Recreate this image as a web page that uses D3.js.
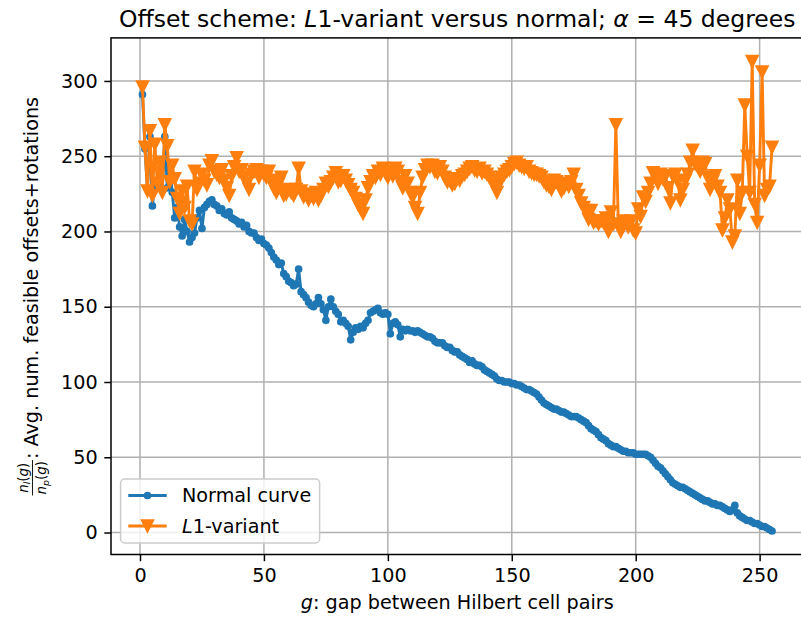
<!DOCTYPE html>
<html>
<head>
<meta charset="utf-8">
<script src="https://cdn.jsdelivr.net/npm/d3@7"></script>
<style>
  body { margin: 0; background: #fff; }
  svg text { font-family: "DejaVu Sans", sans-serif; fill: #000; }
</style>
</head>
<body>
<div id="chart"></div>
<script>
// g = 1 .. 255
const gaps = d3.range(1, 256);

const normalCurve = [
  291, 255, 228, 263, 217, 232, 230, 236, 228, 263,
  229, 244, 226, 209, 216, 203, 197, 208, 200, 193,
  196, 199, 209, 214, 202, 216, 218, 220, 221, 218,
  217, 214, 215, 212, 211, 213, 209, 208, 207, 205,
  206, 203, 204, 200, 199, 199, 196, 194, 195, 192,
  191, 189, 186, 183, 181, 178, 179, 172, 170, 167,
  166, 164, 165, 175, 160, 158, 156, 153, 151, 150,
  152, 156, 152, 148, 141, 150, 155, 150, 147, 145,
  140, 141, 139, 137, 128, 133, 136, 135, 137, 136,
  139, 141, 146, 147, 148, 149, 146, 145, 146, 145,
  132, 139, 140, 138, 130, 135, 134, 135, 134, 134,
  133, 134, 133, 132, 131, 130, 130, 129, 127, 126,
  126, 126, 124, 123, 123, 121, 120, 120, 118, 117,
  116, 115, 113, 114, 112, 111, 111, 110, 108, 107,
  106, 105, 104, 102, 101, 101, 100, 100, 100, 99,
  99, 98, 98, 97, 96, 95, 95, 94, 93, 92,
  90, 88, 86, 85, 84, 83, 82, 82, 81, 80,
  80, 79, 78, 77, 77, 77, 76, 75, 74, 73,
  71, 69, 68, 67, 65, 63, 62, 61, 59, 58,
  57, 57, 56, 55, 54, 54, 53, 53, 53, 52,
  52, 52, 52, 52, 51, 50, 48, 46, 44, 43,
  41, 39, 37, 35, 33, 32, 31, 30, 30, 29,
  28, 27, 26, 25, 24, 23, 22, 21, 21, 20,
  19, 19, 18, 18, 17, 16, 15, 14, 15, 18,
  13, 11, 10, 9, 8, 8, 7, 6, 6, 5,
  4, 4, 3, 2, 1
];

const l1Variant = [
  296, 256, 227, 267, 224, 258, 232, 246, 226, 271,
  257, 233, 244, 235, 222, 212, 227, 216, 230, 207,
  205, 240, 228, 232, 238, 234, 231, 244, 247, 240,
  238, 236, 241, 234, 229, 224, 237, 243, 249, 240,
  241, 236, 232, 228, 238, 240, 241, 236, 240, 238,
  236, 240, 234, 229, 226, 232, 236, 224, 225, 228,
  226, 224, 228, 242, 227, 223, 225, 221, 224, 222,
  226, 221, 224, 228, 232, 230, 233, 236, 239, 233,
  234, 237, 234, 231, 228, 226, 222, 218, 215, 212,
  221, 229, 233, 237, 236, 240, 238, 242, 239, 236,
  240, 237, 242, 240, 233, 229, 237, 232, 226, 223,
  216, 212, 226, 236, 241, 244, 243, 244, 240, 239,
  243, 240, 236, 233, 234, 231, 232, 235, 234, 237,
  238, 240, 242, 243, 241, 240, 242, 239, 240, 238,
  236, 234, 230, 226, 232, 236, 238, 240, 241, 243,
  245, 246, 244, 243, 242, 243, 240, 239, 238, 238,
  237, 236, 233, 231, 230, 228, 234, 233, 231, 227,
  229, 232, 230, 233, 238, 228, 224, 219, 216, 214,
  208, 214, 206, 207, 205, 207, 206, 209, 200, 213,
  205, 271, 204, 200, 207, 206, 203, 207, 201, 199,
  215, 210, 223, 220, 226, 232, 239, 236, 232, 238,
  235, 237, 229, 219, 237, 238, 233, 221, 228, 234,
  238, 246, 254, 245, 243, 240, 246, 245, 236, 228,
  233, 237, 230, 226, 201, 209, 221, 215, 193, 197,
  234, 212, 226, 284, 250, 226, 313, 218, 206, 244,
  306, 224, 228, 230, 256
];

const xTicks = [0, 50, 100, 150, 200, 250];
const yTicks = [0, 50, 100, 150, 200, 250, 300];

const BLUE = "#1f77b4", ORANGE = "#ff7f0e";
const W = 801, H = 617;
const plot = { left: 111, right: 803.5, top: 37.9, bottom: 554.5 };
const fs = 19.2; // 10pt

// matplotlib style 5% margins
function padded(arr) {
  const [lo, hi] = d3.extent(arr);
  const p = (hi - lo) * 0.05;
  return [lo - p, hi + p];
}

const x = d3.scaleLinear().domain(padded(gaps)).range([plot.left, plot.right]);
const y = d3.scaleLinear().domain(padded(normalCurve.concat(l1Variant))).range([plot.bottom, plot.top]);

const svg = d3.select("#chart").append("svg")
  .attr("width", W)
  .attr("height", H);

svg.append("defs").append("clipPath").attr("id", "clip")
  .append("rect")
    .attr("x", plot.left).attr("y", plot.top)
    .attr("width", plot.right - plot.left)
    .attr("height", plot.bottom - plot.top);

// grid
const grid = svg.append("g").attr("stroke", "#b0b0b0").attr("stroke-width", 1.5);
grid.selectAll("line.gx").data(xTicks).enter().append("line")
  .attr("x1", d => x(d)).attr("x2", d => x(d))
  .attr("y1", plot.top).attr("y2", plot.bottom);
grid.selectAll("line.gy").data(yTicks).enter().append("line")
  .attr("x1", plot.left).attr("x2", plot.right)
  .attr("y1", d => y(d)).attr("y2", d => y(d));

// axes
const xAxis = svg.append("g")
  .attr("transform", `translate(0,${plot.bottom})`)
  .call(d3.axisBottom(x).tickValues(xTicks).tickSize(6.7).tickPadding(6.7).tickSizeOuter(0));
const yAxis = svg.append("g")
  .attr("transform", `translate(${plot.left},0)`)
  .call(d3.axisLeft(y).tickValues(yTicks).tickSize(6.7).tickPadding(6.7).tickSizeOuter(0));

[xAxis, yAxis].forEach(a => {
  a.attr("font-size", fs).attr("font-family", "DejaVu Sans");
  a.select(".domain").remove();
  a.selectAll(".tick line").attr("stroke", "#000").attr("stroke-width", 1.5);
  a.selectAll(".tick text").attr("fill", "#000");
});

// series
const data = svg.append("g").attr("clip-path", "url(#clip)");
const line = d3.line().x((d, i) => x(gaps[i])).y(d => y(d));

data.append("path")
  .datum(normalCurve)
  .attr("d", line)
  .attr("fill", "none")
  .attr("stroke", BLUE)
  .attr("stroke-width", 2.9)
  .attr("stroke-linejoin", "round");

data.selectAll("circle.normal")
  .data(normalCurve)
  .enter().append("circle")
    .attr("class", "normal")
    .attr("cx", (d, i) => x(gaps[i]))
    .attr("cy", d => y(d))
    .attr("r", 2.9)
    .attr("fill", BLUE)
    .attr("stroke", BLUE)
    .attr("stroke-width", 1.9);

data.append("path")
  .datum(l1Variant)
  .attr("d", line)
  .attr("fill", "none")
  .attr("stroke", ORANGE)
  .attr("stroke-width", 2.9)
  .attr("stroke-linejoin", "round");

const tri = s => `M0,${s / 2}L${-s / 2},${-s / 2}L${s / 2},${-s / 2}Z`;

data.selectAll("path.l1")
  .data(l1Variant)
  .enter().append("path")
    .attr("class", "l1")
    .attr("d", tri(11.5))
    .attr("transform", (d, i) => `translate(${x(gaps[i])},${y(d)})`)
    .attr("fill", ORANGE)
    .attr("stroke", ORANGE)
    .attr("stroke-width", 1.9)
    .attr("stroke-linejoin", "miter");

// spines
svg.append("rect")
  .attr("x", plot.left).attr("y", plot.top)
  .attr("width", plot.right - plot.left)
  .attr("height", plot.bottom - plot.top)
  .attr("fill", "none")
  .attr("stroke", "#000")
  .attr("stroke-width", 1.5);

// legend
const lg = svg.append("g");
lg.append("rect")
  .attr("x", 120.6).attr("y", 479)
  .attr("width", 199).attr("height", 64)
  .attr("rx", 4)
  .attr("fill", "#fff").attr("fill-opacity", 0.8)
  .attr("stroke", "#cccccc").attr("stroke-width", 1.5);

const rows = [
  { label: "Normal curve", color: BLUE, y: 495.5, mark: "dot" },
  { label: "L1-variant", color: ORANGE, y: 526, mark: "tri" }
];
rows.forEach(r => {
  lg.append("line")
    .attr("x1", 128.3).attr("x2", 166.7)
    .attr("y1", r.y).attr("y2", r.y)
    .attr("stroke", r.color).attr("stroke-width", 2.9);
  if (r.mark === "dot") {
    lg.append("circle").attr("cx", 147.5).attr("cy", r.y).attr("r", 2.9)
      .attr("fill", r.color).attr("stroke", r.color).attr("stroke-width", 1.9);
  } else {
    lg.append("path").attr("d", tri(11.5))
      .attr("transform", `translate(147.5,${r.y})`)
      .attr("fill", r.color).attr("stroke", r.color).attr("stroke-width", 1.9);
  }
  const t = lg.append("text")
    .attr("x", 182).attr("y", r.y)
    .attr("dy", "0.35em")
    .attr("font-size", fs);
  if (r.mark === "tri") {
    t.append("tspan").attr("font-style", "italic").text("L");
    t.append("tspan").text("1-variant");
  } else {
    t.text(r.label);
  }
});

// title
const cx = (plot.left + plot.right) / 2;
const title = svg.append("text")
  .attr("x", cx).attr("y", 26.5)
  .attr("text-anchor", "middle")
  .attr("font-size", 23.5);
title.append("tspan").text("Offset scheme: ");
title.append("tspan").attr("font-style", "italic").text("L");
title.append("tspan").text("1-variant versus normal; ");
title.append("tspan").attr("font-style", "italic").text("α");
title.append("tspan").text(" = 45 degrees");

// x label
const xl = svg.append("text")
  .attr("x", cx).attr("y", 608.5)
  .attr("text-anchor", "middle")
  .attr("font-size", fs);
xl.append("tspan").attr("font-style", "italic").text("g");
xl.append("tspan").text(": gap between Hilbert cell pairs");

// y label with fraction n_l(g)/n_p(g)
const yl = svg.append("g");
function fracPart(sub, yy) {
  const t = yl.append("text").attr("y", yy).attr("font-size", 13.4);
  t.append("tspan").attr("font-style", "italic").text("n");
  t.append("tspan").attr("font-style", "italic").attr("font-size", 9.4).attr("dy", 2.5).text(sub);
  t.append("tspan").attr("dy", -2.5).text("(");
  t.append("tspan").attr("font-style", "italic").text("g");
  t.append("tspan").text(")");
  return t;
}
const num = fracPart("l", -10.5);
const den = fracPart("p", 8);
const wn = num.node().getComputedTextLength();
const wd = den.node().getComputedTextLength();
const wf = Math.max(wn, wd) + 2;
num.attr("x", (wf - wn) / 2);
den.attr("x", (wf - wd) / 2);
yl.append("line")
  .attr("x1", 0).attr("x2", wf)
  .attr("y1", -5.5).attr("y2", -5.5)
  .attr("stroke", "#000").attr("stroke-width", 0.9);
const main = yl.append("text")
  .attr("x", wf + 1).attr("y", 0)
  .attr("font-size", fs)
  .text(": Avg. num. feasible offsets+rotations");
const total = wf + 1 + main.node().getComputedTextLength();
yl.attr("transform", `translate(38,${(plot.top + plot.bottom) / 2 + total / 2}) rotate(-90)`);
</script>
</body>
</html>
